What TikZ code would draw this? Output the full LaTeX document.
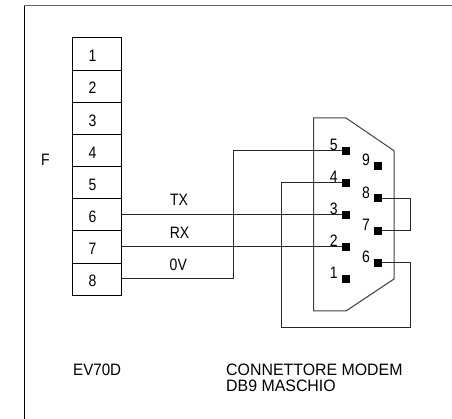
\documentclass[tikz,border=0pt]{standalone}
\usepackage{fontspec}
\setmainfont{Liberation Sans}
\tikzset{
  x=1pt,y=-1pt,
  txt/.style={inner sep=0pt,font=\fontsize{14}{14}\selectfont,anchor=center,yscale=1.18},
  lbl/.style={inner sep=0pt,font=\fontsize{14}{14}\selectfont,anchor=west,yscale=1.18,xscale=1.08},
  biglbl/.style={inner sep=0pt,anchor=west,font=\fontsize{15}{15}\selectfont,xscale=1.06,yscale=1.1},
  cell/.style={draw,line width=1pt,minimum width=48.5pt,minimum height=32.15pt,inner sep=0pt},
  pin/.style={fill=black,minimum size=8pt,inner sep=0pt},
  wire/.style={line width=1pt,draw=black!85},
  outline/.style={line width=1pt,draw=black!75}
}
\begin{document}
\begin{tikzpicture}
\useasboundingbox (0,0) rectangle (452,419);
\draw[line width=1pt] (24.5,419) -- (24.5,5.5);
\draw[line width=1.5pt,draw=black!60] (24,5.5) -- (452,5.5);
\foreach \n [evaluate=\n as \yy using 38+(\n-0.5)*32.15] in {1,...,8}{
  \node[cell] (c\n) at (96.75,\yy) {};
  \node[txt] (n\n) at ([shift={(-4.3,2)}]c\n.center) {\n};
}
\node[txt] (lf) at (45.3,160) {F};
\node[txt] (ltx) at (179,200) {TX};
\node[txt] (lrx) at (179.5,232.5) {RX};
\node[txt] (lov) at (178.3,264.5) {0V};
\draw[outline] (313.5,118) -- (346,118) -- (394,150.7) -- (394,279) -- (346,311) -- (313.5,311) -- cycle;
\node[pin] (p5) at (346,150.7) {};
\node[pin] (p4) at (346,182.7) {};
\node[pin] (p3) at (346,215) {};
\node[pin] (p2) at (346,247) {};
\node[pin] (p1) at (346,279) {};
\node[pin] (p9) at (378,166.5) {};
\node[pin] (p8) at (378,198.5) {};
\node[pin] (p7) at (378,231) {};
\node[pin] (p6) at (378,263) {};
\node[txt] (l5) at (333.7,144.5) {5};
\node[txt] (l4) at (333.7,177) {4};
\node[txt] (l3) at (333.7,209) {3};
\node[txt] (l2) at (333.7,241) {2};
\node[txt] (l1) at (333.7,273) {1};
\node[txt] (l9) at (366,160) {9};
\node[txt] (l8) at (366,192.5) {8};
\node[txt] (l7) at (366,225) {7};
\node[txt] (l6) at (366,257) {6};
\coordinate (a) at (233,279);
\coordinate (b) at (233,150.7);
\coordinate (c) at (281.7,182.7);
\coordinate (d) at (281.7,327);
\coordinate (e) at (410,327);
\coordinate (f) at (410,263);
\coordinate (g) at (410,198.5);
\coordinate (h) at (410,231);
\draw[wire] (c6.east |- p3) -- (p3);
\draw[wire] (c7.east |- p2) -- (p2);
\draw[wire] (c8.east |- a) -- (a) -- (b) -- (p5);
\draw[wire] (p4) -- (c) -- (d) -- (e) -- (f) -- (p6);
\draw[wire] (p8) -- (g) -- (h) -- (p7);
\node[lbl] (ev) at (73,369.5) {EV70D};
\node[biglbl] (cm) at (226,369.5) {CONNETTORE MODEM};
\node[biglbl] (db) at (226,385.5) {DB9 MASCHIO};
\end{tikzpicture}
\end{document}
